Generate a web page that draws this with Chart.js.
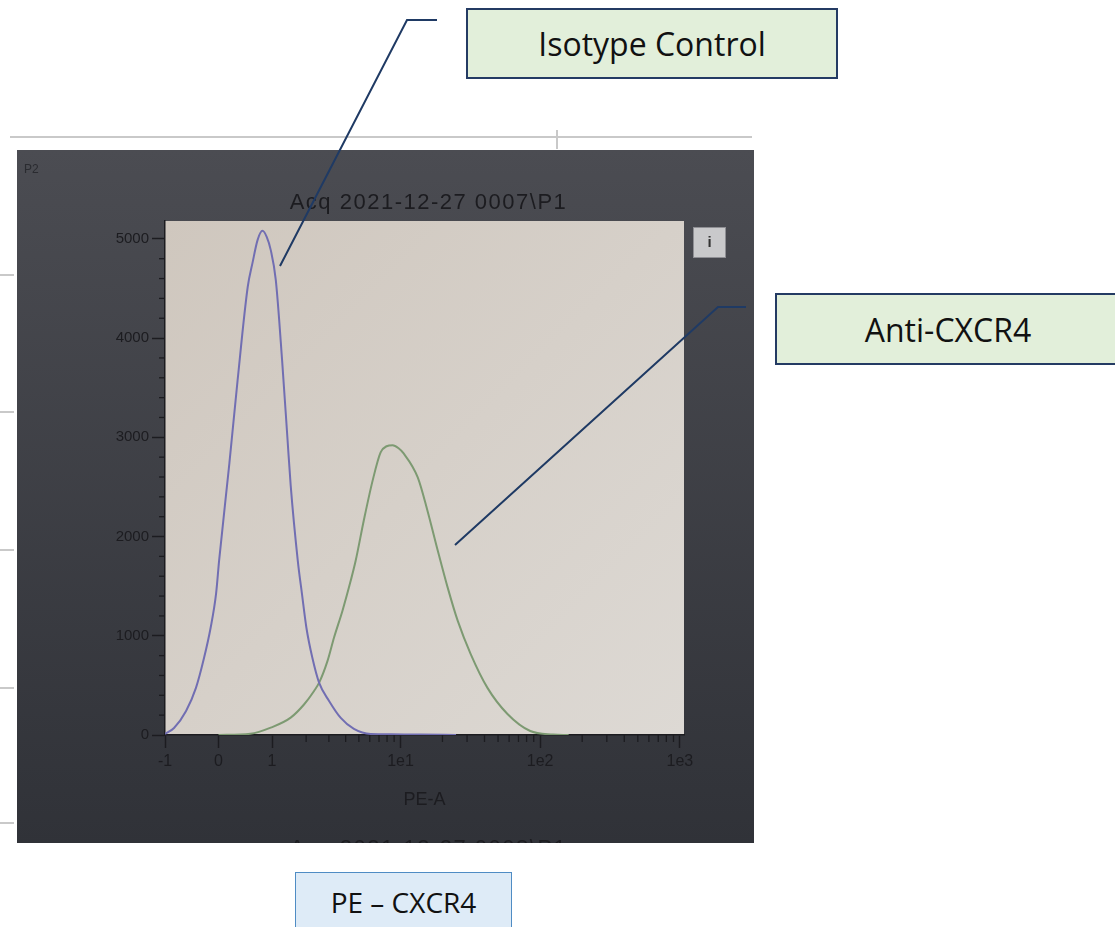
<!DOCTYPE html>
<html>
<head>
<meta charset="utf-8">
<script src="https://cdn.jsdelivr.net/npm/chart.js@4.4.1/dist/chart.umd.min.js"></script>
<style>
html, body { margin: 0; padding: 0; background: #fff; }
#wrap { position: relative; width: 1115px; height: 927px; overflow: hidden; }
#c { position: absolute; left: 0; top: 0; }
.box { position: absolute; box-sizing: border-box; display: flex; align-items: center; justify-content: center;
       font-family: "Open Sans", sans-serif; color: #111; }
</style>
</head>
<body>
<div id="wrap">
  <canvas id="c" width="1115" height="927"></canvas>
  <div class="box" style="left:466px;top:8px;width:372px;height:71px;background:#e2efda;border:2px solid #243b63;font-size:32px;">Isotype Control</div>
  <div class="box" style="left:775px;top:293px;width:346px;height:72px;background:#e2efda;border:2px solid #243b63;font-size:32px;">Anti-CXCR4</div>
  <div class="box" style="left:295px;top:872px;width:217px;height:60px;background:#deebf7;border:1.5px solid #4f8cc4;font-size:28px;">PE – CXCR4</div>
</div>
<script>
// axis ticks
var xTickValues = [-1, 0, 1, 10, 100, 1000];
var xTickLabels = ['-1', '0', '1', '1e1', '1e2', '1e3'];
var yTickValues = [0, 1000, 2000, 3000, 4000, 5000];

// Isotype Control histogram (PE-A, count)
var isotypeX = [-1, -0.80, -0.56, -0.38, -0.24, -0.13, -0.04, 0.01, 0.18, 0.32, 0.50, 0.59, 0.69, 0.79,
    0.88, 0.97, 1.09, 1.25, 1.40, 1.49, 1.71, 1.85, 2.01, 2.24, 2.53, 3.01, 3.68, 4.60, 6.10,
    8.6, 14, 25];
var isotypeCount = [10, 71, 242, 475, 778, 1081, 1424, 1758, 2737, 3576, 4515, 4758, 4990, 5081,
    5020, 4889, 4586, 3778, 2970, 2515, 1758, 1424, 1081, 778, 525, 343, 172, 61, 10,
    8, 4, 0];

// Anti-CXCR4 histogram (PE-A, count)
var antiX = [0, 0.55, 0.97, 1.49, 1.93, 2.31, 2.53, 2.93, 3.28, 3.79, 4.36, 4.74, 5.43, 6.30, 7.19,
    7.94, 8.77, 9.69, 10.5, 13.3, 15.6, 18.5, 21.8, 25.7, 31.8, 42.0, 58.4, 85, 124, 160];
var antiCount = [0, 12, 74, 175, 310, 444, 528, 747, 983, 1253, 1556, 1758, 2162, 2566, 2848,
    2910, 2920, 2890, 2840, 2596, 2263, 1859, 1485, 1152, 818, 475, 212, 40, 5, 0];

// asinh (logicle-like) axis used by the cytometer software
class AsinhScale extends Chart.LinearScale {
    buildTicks() {
        return xTickValues.map(function(v) { return { value: v }; });
    }
    getPixelForValue(value) {
        var lo = Math.asinh(this.min), hi = Math.asinh(this.max);
        return this.getPixelForDecimal((Math.asinh(value) - lo) / (hi - lo));
    }
    getValueForPixel(pixel) {
        var lo = Math.asinh(this.min), hi = Math.asinh(this.max);
        return Math.sinh(lo + this.getDecimalForPixel(pixel) * (hi - lo));
    }
}
AsinhScale.id = 'asinh';
AsinhScale.defaults = {};
Chart.register(AsinhScale);

var ink = '#1c1c20';
var navy = '#1f3a64';
var labelFont = '"Liberation Sans", sans-serif';

function line(ctx, x1, y1, x2, y2) {
    ctx.beginPath(); ctx.moveTo(x1, y1); ctx.lineTo(x2, y2); ctx.stroke();
}

var photoPlugin = {
    id: 'photo',
    beforeDraw: function(chart) {
        var ctx = chart.ctx, a = chart.chartArea;
        ctx.save();
        ctx.fillStyle = '#fff';
        ctx.fillRect(0, 0, chart.width, chart.height);
        // page ruler marks
        ctx.strokeStyle = '#c9c9c9';
        ctx.lineWidth = 2;
        line(ctx, 10, 137, 752, 137);
        line(ctx, 557, 130, 557, 149);
        [275, 412, 550, 688, 823].forEach(function(y) { line(ctx, 0, y, 14, y); });
        // photo background
        var g = ctx.createLinearGradient(0, 150, 0, 843);
        g.addColorStop(0, '#4b4c52');
        g.addColorStop(1, '#303238');
        ctx.fillStyle = g;
        ctx.fillRect(17, 150, 737, 693);
        // plot area
        var p = ctx.createLinearGradient(a.left, a.top, a.right, a.bottom);
        p.addColorStop(0, '#cfc7be');
        p.addColorStop(1, '#ddd9d4');
        ctx.fillStyle = p;
        ctx.fillRect(a.left, a.top, a.right - a.left, a.bottom - a.top);
        ctx.restore();
    },
    afterDraw: function(chart) {
        var ctx = chart.ctx, a = chart.chartArea;
        var xs = chart.scales.x, ys = chart.scales.y;
        ctx.save();
        // minor ticks
        ctx.strokeStyle = ink;
        ctx.lineWidth = 1.3;
        [1, 10, 100].forEach(function(d) {
            for (var k = 2; k <= 9; k++) {
                var px = xs.getPixelForValue(d * k);
                line(ctx, px, a.bottom, px, a.bottom + 7);
            }
        });
        for (var v = 200; v < 5180; v += 200) {
            if (v % 1000 === 0) continue;
            var py = ys.getPixelForValue(v);
            line(ctx, a.left - 6, py, a.left, py);
        }
        // titles of the screenshot
        ctx.fillStyle = ink;
        ctx.textAlign = 'center';
        ctx.textBaseline = 'middle';
        ctx.font = '22px ' + labelFont;
        ctx.letterSpacing = '1.5px';
        ctx.fillText('Acq 2021-12-27 0007\\P1', (a.left + a.right) / 2 + 4, 203);
        ctx.save();
        ctx.beginPath();
        ctx.rect(17, 150, 737, 693);
        ctx.clip();
        ctx.fillText('Acq 2021-12-27 0008\\P1', (a.left + a.right) / 2 + 4, 849);
        ctx.restore();
        ctx.letterSpacing = '0px';
        ctx.font = '12px ' + labelFont;
        ctx.fillStyle = '#2a2b30';
        ctx.textAlign = 'left';
        ctx.fillText('P2', 24, 170);
        // info button
        ctx.fillStyle = '#c9c9cb';
        ctx.fillRect(693, 227, 33, 31);
        ctx.strokeStyle = '#8f8f94';
        ctx.lineWidth = 1;
        ctx.strokeRect(693.5, 227.5, 32, 30);
        ctx.fillStyle = '#333';
        ctx.textAlign = 'center';
        ctx.font = 'bold 15px ' + labelFont;
        ctx.fillText('i', 709.5, 243);
        // leader lines
        ctx.strokeStyle = navy;
        ctx.lineWidth = 2;
        ctx.beginPath();
        ctx.moveTo(437, 20); ctx.lineTo(407, 20); ctx.lineTo(280, 266);
        ctx.stroke();
        ctx.beginPath();
        ctx.moveTo(746, 307); ctx.lineTo(718, 307); ctx.lineTo(455, 545);
        ctx.stroke();
        ctx.restore();
    }
};

function pairs(xs, ys) {
    return xs.map(function(x, i) { return { x: x, y: ys[i] }; });
}

new Chart(document.getElementById('c'), {
    type: 'line',
    data: {
        datasets: [
            {
                label: 'Isotype Control',
                data: pairs(isotypeX, isotypeCount),
                borderColor: '#716eb2',
                borderWidth: 2,
                pointRadius: 0,
                cubicInterpolationMode: 'monotone'
            },
            {
                label: 'Anti-CXCR4',
                data: pairs(antiX, antiCount),
                borderColor: '#7d9a72',
                borderWidth: 2,
                pointRadius: 0,
                cubicInterpolationMode: 'monotone'
            }
        ]
    },
    options: {
        responsive: false,
        animation: false,
        layout: { padding: { left: 0, top: 221, right: 431, bottom: 112 } },
        plugins: {
            legend: { display: false },
            tooltip: { enabled: false }
        },
        scales: {
            x: {
                type: 'asinh',
                min: -1,
                max: 1070,
                afterFit: function(s) { s.height = 80; },
                grid: { drawOnChartArea: false, tickLength: 13, tickColor: ink, tickWidth: 1.5 },
                border: { color: ink, width: 1.5 },
                ticks: {
                    autoSkip: false,
                    maxRotation: 0,
                    padding: 4,
                    color: ink,
                    font: { size: 16, family: labelFont },
                    callback: function(v, i) { return xTickLabels[i]; }
                },
                title: {
                    display: true,
                    text: 'PE-A',
                    color: ink,
                    font: { size: 18, family: labelFont },
                    padding: { top: 0, bottom: 4 }
                }
            },
            y: {
                min: 0,
                max: 5180,
                afterFit: function(s) { s.width = 165; },
                afterBuildTicks: function(s) {
                    s.ticks = yTickValues.map(function(v) { return { value: v }; });
                },
                grid: { drawOnChartArea: false, tickLength: 13, tickColor: ink, tickWidth: 1.5 },
                border: { color: ink, width: 1.5 },
                ticks: {
                    padding: 3,
                    color: ink,
                    font: { size: 15, family: labelFont },
                    callback: function(v) { return String(v); }
                }
            }
        }
    },
    plugins: [photoPlugin]
});
</script>
</body>
</html>
